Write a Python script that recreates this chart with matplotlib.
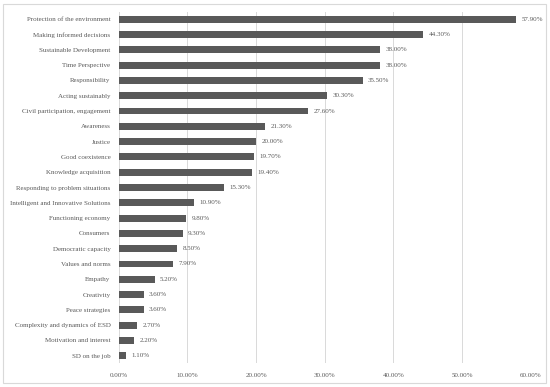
import matplotlib
matplotlib.use("Agg")
import matplotlib.pyplot as plt
from matplotlib.patches import Rectangle

categories = [
    "Protection of the environment", "Making informed decisions", "Sustainable Development",
    "Time Perspective", "Responsibility", "Acting sustainably",
    "Civil participation, engagement", "Awareness", "Justice", "Good coexistence",
    "Knowledge acquisition", "Responding to problem situations",
    "Intelligent and Innovative Solutions", "Functioning economy", "Consumers",
    "Democratic capacity", "Values and norms", "Empathy", "Creativity",
    "Peace strategies", "Complexity and dynamics of ESD", "Motivation and interest",
    "SD on the job",
]
values = [57.9, 44.3, 38.0, 38.0, 35.5, 30.3, 27.6, 21.3, 20.0, 19.7, 19.4, 15.3,
          10.9, 9.8, 9.3, 8.5, 7.9, 5.2, 3.6, 3.6, 2.7, 2.2, 1.1]
xticks = [0, 10, 20, 30, 40, 50, 60]

plt.rcParams['font.family'] = ['Liberation Serif', 'DejaVu Serif']
fig = plt.figure(figsize=(5.5, 3.87), dpi=100)
ax = fig.add_axes([0.216, 0.061, 0.749, 0.909])

n = len(categories)
ypos = list(range(n))
ax.barh(ypos, values, height=0.45, color="#595959", zorder=3)
for y, v in zip(ypos, values):
    ax.text(v + 0.8, y, f"{v:.2f}%", va="center", ha="left", fontsize=5.0, color="#595959")

ax.set_yticks(ypos)
ax.set_yticklabels(categories, fontsize=5.0, color="#595959")
ax.set_ylim(n - 0.5, -0.5)
ax.set_xlim(0, 60)
ax.set_xticks(xticks)
ax.set_xticklabels([f"{t:.2f}%" for t in xticks], fontsize=5.0, color="#595959")
ax.tick_params(axis="y", length=0, pad=6)
ax.tick_params(axis="x", length=0, pad=7)
ax.xaxis.grid(True, color="#d9d9d9", linewidth=0.7, zorder=0)
for s in ax.spines.values():
    s.set_visible(False)

fig.patches.append(Rectangle((3/550, 4/387), 543/550, 379/387, transform=fig.transFigure,
                             fill=False, edgecolor="#d9d9d9", linewidth=0.8))
fig.savefig("out.png", dpi=100)
